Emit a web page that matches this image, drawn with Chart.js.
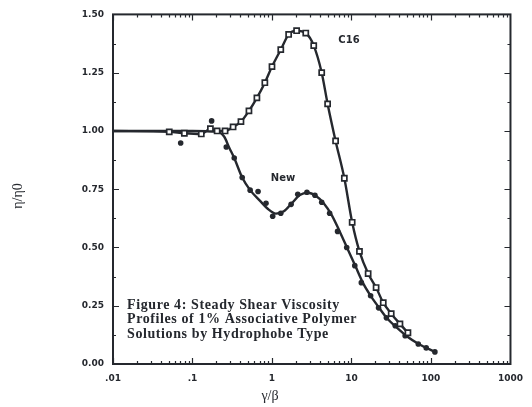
<!DOCTYPE html>
<html>
<head>
<meta charset="utf-8">
<script src="https://cdn.jsdelivr.net/npm/chart.js@4"></script>
<style>
	html, body { margin: 0; padding: 0; background: #fff; }
	#wrap { width: 532px; height: 407px; }
</style>
</head>
<body>
<div id="wrap"><canvas id="viscChart" width="532" height="407"></canvas></div>
<script>
// C16 - open squares (first point is the flat lead-in, no marker)
const c16X = [0.01, 0.051, 0.079, 0.129, 0.168, 0.204, 0.257, 0.324, 0.407, 0.513, 0.646, 0.813, 1.0, 1.29, 1.62, 2.04, 2.66, 3.35, 4.22, 5.01, 6.31, 8.13, 10.2, 12.6, 16.2, 20.4, 25.1, 31.6, 40.7, 51.3];
const c16Y = [1.0, 0.996, 0.99, 0.987, 1.01, 1.0, 1.0, 1.017, 1.04, 1.086, 1.142, 1.207, 1.276, 1.349, 1.414, 1.43, 1.42, 1.366, 1.25, 1.116, 0.957, 0.797, 0.608, 0.483, 0.388, 0.328, 0.263, 0.216, 0.172, 0.134];

// New - fitted curve
const newLineX = [0.01, 0.1, 0.2, 0.251, 0.288, 0.335, 0.422, 0.531, 0.708, 0.891, 1.12, 1.41, 1.78, 2.24, 2.82, 3.55, 4.47, 5.62, 7.08, 8.91, 11.2, 14.1, 17.8, 22.4, 28.2, 35.5, 50.1, 70.8, 112];
const newLineY = [1.0, 1.0, 0.997, 0.975, 0.93, 0.884, 0.80, 0.746, 0.70, 0.665, 0.645, 0.655, 0.69, 0.725, 0.735, 0.722, 0.69, 0.64, 0.57, 0.495, 0.42, 0.345, 0.288, 0.24, 0.195, 0.162, 0.118, 0.085, 0.052];

// New - measured points (filled dots)
const newPtsX = [0.071, 0.174, 0.266, 0.335, 0.422, 0.531, 0.668, 0.841, 1.02, 1.29, 1.74, 2.11, 2.75, 3.47, 4.22, 5.31, 6.68, 8.71, 11.0, 13.3, 17.4, 21.9, 27.5, 35.5, 47.3, 69.2, 87.1, 112];
const newPtsY = [0.948, 1.043, 0.931, 0.884, 0.80, 0.746, 0.74, 0.69, 0.634, 0.647, 0.685, 0.728, 0.737, 0.724, 0.694, 0.647, 0.569, 0.50, 0.422, 0.349, 0.293, 0.241, 0.198, 0.164, 0.121, 0.086, 0.069, 0.052];

const xTickValues = [0.01, 0.1, 1, 10, 100, 1000];
const xTickLabels = ['.01', '.1', '1', '10', '100', '1000'];
const yTickValues = [0, 0.25, 0.5, 0.75, 1.0, 1.25, 1.5];
const yTickLabels = ['0.00', '0.25', '0.50', '0.75', '1.00', '1.25', '1.50'];

const captionLines = ['Figure 4: Steady Shear Viscosity', 'Profiles of 1% Associative Polymer', 'Solutions by Hydrophobe Type'];

const ink = '#25282e';

function pts(xs, ys) {
	return xs.map((x, i) => ({ x: x, y: ys[i] }));
}

// frame, inward ticks, axis titles, labels
const decor = {
	id: 'decor',
	afterDraw(chart) {
		const ctx = chart.ctx;
		const a = chart.chartArea;
		const xs = chart.scales.x, ys = chart.scales.y;
		ctx.save();
		ctx.strokeStyle = ink;
		ctx.lineWidth = 2;
		ctx.strokeRect(a.left, a.top, a.right - a.left, a.bottom - a.top);

		ctx.lineWidth = 1.2;
		ctx.beginPath();
		// y ticks every 0.125
		for (let v = 0; v <= 1.5001; v += 0.125) {
			const py = Math.round(ys.getPixelForValue(v)) + 0.5;
			const len = (Math.abs(v / 0.25 - Math.round(v / 0.25)) < 0.01) ? 6 : 3;
			ctx.moveTo(a.left, py); ctx.lineTo(a.left + len, py);
			ctx.moveTo(a.right, py); ctx.lineTo(a.right - len, py);
		}
		// x log ticks
		for (let e = -2; e <= 2; e++) {
			for (let m = 1; m <= 9; m++) {
				const v = m * Math.pow(10, e);
				const px = Math.round(xs.getPixelForValue(v)) + 0.5;
				const len = m === 1 ? 6 : 3;
				ctx.moveTo(px, a.bottom); ctx.lineTo(px, a.bottom - len);
				ctx.moveTo(px, a.top); ctx.lineTo(px, a.top + len);
			}
		}
		ctx.stroke();

		ctx.fillStyle = ink;
		ctx.textBaseline = 'middle';
		ctx.textAlign = 'center';
		ctx.font = '14px "Liberation Serif"';
		ctx.fillText('\u03b3/\u03b2', 270, 396);

		ctx.save();
		ctx.translate(18, 196);
		ctx.rotate(-Math.PI / 2);
		ctx.fillText('\u03b7/\u03b70', 0, 0);
		ctx.restore();

		ctx.font = 'bold 10px "DejaVu Sans"';
		ctx.fillText('C16', 349, 40);
		ctx.fillText('New', 283, 178);

		ctx.textAlign = 'left';
		ctx.font = 'bold 14px "Liberation Serif"';
		ctx.letterSpacing = '0.6px';
		captionLines.forEach((t, i) => ctx.fillText(t, 127, 305 + i * 14.5));
		ctx.restore();
	}
};

const ctx = document.getElementById('viscChart').getContext('2d');
new Chart(ctx, {
	type: 'scatter',
	data: {
		datasets: [{
			label: 'C16',
			data: pts(c16X, c16Y),
			showLine: true,
			borderColor: ink,
			borderWidth: 2.4,
			cubicInterpolationMode: 'monotone',
			pointStyle: 'rect',
			pointRadius: c16X.map((x, i) => i === 0 ? 0 : 3.6),
			pointBackgroundColor: '#fff',
			pointBorderColor: ink,
			pointBorderWidth: 1.7
		}, {
			label: 'New fit',
			data: pts(newLineX, newLineY),
			showLine: true,
			borderColor: ink,
			borderWidth: 2.4,
			cubicInterpolationMode: 'monotone',
			pointRadius: 0
		}, {
			label: 'New',
			data: pts(newPtsX, newPtsY),
			showLine: false,
			pointRadius: 2.8,
			pointBackgroundColor: ink,
			pointBorderColor: ink,
			pointBorderWidth: 0
		}]
	},
	options: {
		responsive: false,
		animation: false,
		layout: { padding: { top: 14, right: 19, left: 0, bottom: 0 } },
		plugins: {
			legend: { display: false },
			tooltip: { enabled: false }
		},
		scales: {
			x: {
				type: 'logarithmic',
				min: 0.01,
				max: 1000,
				afterBuildTicks: scale => { scale.ticks = xTickValues.map(v => ({ value: v })); },
				afterFit: scale => { scale.height = 43; },
				grid: { display: false, drawTicks: false },
				border: { display: false },
				ticks: {
					autoSkip: false,
					maxRotation: 0,
					padding: 9,
					color: ink,
					font: { family: 'DejaVu Sans', weight: 'bold', size: 9 },
					callback: (v, i) => xTickLabels[i]
				}
			},
			y: {
				min: 0,
				max: 1.5,
				afterBuildTicks: scale => { scale.ticks = yTickValues.map(v => ({ value: v })); },
				afterFit: scale => { scale.width = 113; },
				grid: { display: false, drawTicks: false },
				border: { display: false },
				ticks: {
					padding: 9,
					color: ink,
					font: { family: 'DejaVu Sans', weight: 'bold', size: 9 },
					callback: (v, i) => yTickLabels[i]
				}
			}
		}
	},
	plugins: [decor]
});
</script>
</body>
</html>
